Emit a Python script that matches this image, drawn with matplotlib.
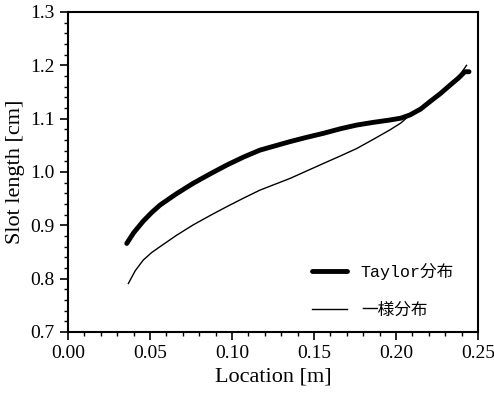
import matplotlib.pyplot as plt
from matplotlib.ticker import MultipleLocator
import numpy as np

plt.rcParams['font.family'] = ['Liberation Serif', 'Noto Sans CJK JP']

# Taylor分布
taylor_x = [0.0358, 0.0400, 0.0459, 0.0510, 0.0561, 0.0660, 0.0764, 0.0870, 0.0968,
            0.1070, 0.1170, 0.1354, 0.1455, 0.1557, 0.1660, 0.1760, 0.1860, 0.1963,
            0.2030, 0.2085, 0.2150, 0.2207, 0.2270, 0.2330, 0.2380, 0.2420, 0.2445]
taylor_y = [0.866, 0.886, 0.908, 0.924, 0.938, 0.959, 0.979, 0.997, 1.013,
            1.028, 1.041, 1.057, 1.065, 1.0725, 1.081, 1.088, 1.093, 1.0975,
            1.101, 1.107, 1.118, 1.132, 1.147, 1.163, 1.176, 1.188, 1.188]

# 一様分布
uniform_x = [0.0368, 0.0410, 0.0459, 0.0510, 0.0561, 0.0660, 0.0764, 0.0870, 0.0968,
             0.1070, 0.1170, 0.1354, 0.1470, 0.1557, 0.1660, 0.1760, 0.1860, 0.1963,
             0.2030, 0.2085, 0.2150, 0.2207, 0.2270, 0.2330, 0.2380, 0.2430]
uniform_y = [0.791, 0.815, 0.835, 0.849, 0.860, 0.881, 0.901, 0.919, 0.935,
             0.951, 0.966, 0.988, 1.004, 1.016, 1.030, 1.044, 1.061, 1.079,
             1.092, 1.107, 1.119, 1.132, 1.147, 1.163, 1.178, 1.200]

fig = plt.figure(figsize=(4.94, 4.0), dpi=100)
ax = fig.add_axes([0.1377, 0.17, 0.83, 0.80])

ax.plot(taylor_x, taylor_y, color='black', lw=3.5, solid_capstyle='round',
        solid_joinstyle='round', label='Taylor分布')
ax.plot(uniform_x, uniform_y, color='black', lw=1.0, label='一様分布')

ax.set_xlim(0.0, 0.25)
ax.set_ylim(0.7, 1.3)
ax.xaxis.set_major_locator(MultipleLocator(0.05))
ax.xaxis.set_minor_locator(MultipleLocator(0.01))
ax.yaxis.set_major_locator(MultipleLocator(0.1))
ax.yaxis.set_minor_locator(MultipleLocator(0.02))
ax.xaxis.set_major_formatter(plt.FormatStrFormatter('%.2f'))
ax.yaxis.set_major_formatter(plt.FormatStrFormatter('%.1f'))
ax.tick_params(which='major', direction='out', length=6, width=1.2, labelsize=14)
ax.tick_params(which='minor', direction='out', length=3, width=1.0)
for s in ax.spines.values():
    s.set_linewidth(1.5)

ax.set_xlabel('Location [m]', fontsize=16)
ax.set_ylabel('Slot length [cm]', fontsize=16)

leg = ax.legend(loc='lower right', frameon=False, handlelength=2.15,
                handletextpad=0.8, labelspacing=1.35, bbox_to_anchor=(0.978, -0.003),
                prop={'family': ['Liberation Mono', 'Noto Sans CJK JP'], 'size': 12})

fig.savefig('out.png', dpi=100)
